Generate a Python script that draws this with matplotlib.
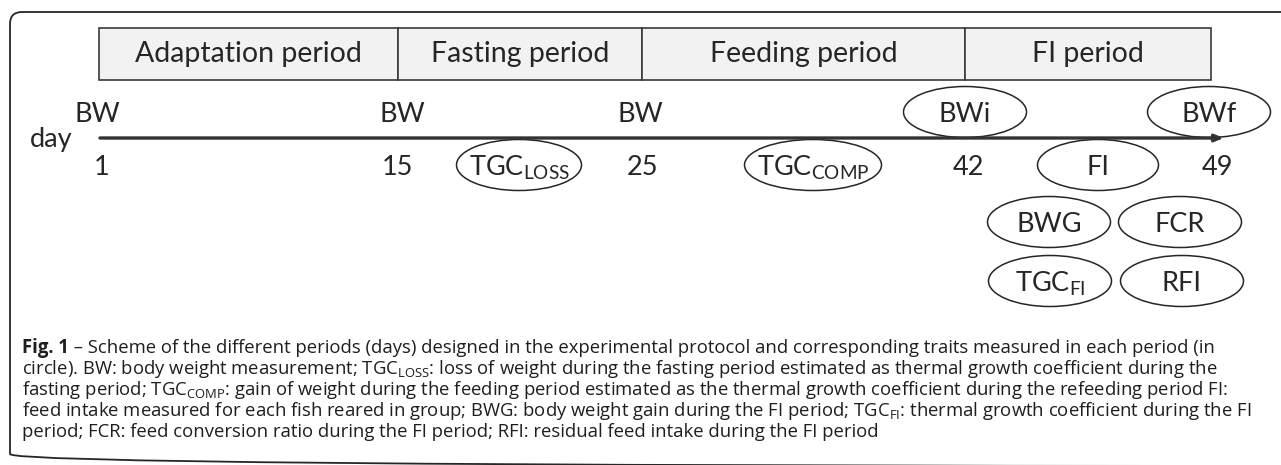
import matplotlib
matplotlib.use("Agg")
import matplotlib.pyplot as plt
from matplotlib.patches import Ellipse, Rectangle, FancyBboxPatch

## data
periods = ["Adaptation period", "Fasting period", "Feeding period", "FI period"]
days = ["1", "15", "25", "42", "49"]
weighings = ["BW", "BW", "BW", "BWi", "BWf"]
weighing_circled = [False, False, False, True, True]
# traits measured in each period (circled), one list per row below the time line
traits_row1 = [r"TGC$_\mathregular{LOSS}$", r"TGC$_\mathregular{COMP}$", "FI"]
traits_row2 = ["BWG", "FCR"]
traits_row3 = [r"TGC$_\mathregular{FI}$", "RFI"]

caption = [
    " \u2013 Scheme of the different periods (days) designed in the experimental protocol and corresponding traits measured in each period (in",
    r"circle). BW: body weight measurement; TGC$_\mathregular{LOSS}$: loss of weight during the fasting period estimated as thermal growth coefficient during the",
    r"fasting period; TGC$_\mathregular{COMP}$: gain of weight during the feeding period estimated as the thermal growth coefficient during the refeeding period FI:",
    r"feed intake measured for each fish reared in group; BWG: body weight gain during the FI period; TGC$_\mathregular{FI}$: thermal growth coefficient during the FI",
    "period; FCR: feed conversion ratio during the FI period; RFI: residual feed intake during the FI period",
]

## layout (pixels, schematic - not to scale)
W, H = 1281, 465
box_x = [99, 398, 642, 965, 1211]
box_top, box_bot = 28, 80
day_x = [102, 397, 643, 968, 1217]
bw_x = [97, 402, 640, 965, 1209]
axis_y, bw_y, day_y = 138, 112, 165
row1_x, row2_x, row3_x = [519, 813, 1098], [1049, 1180], [1050, 1182]
row1_w = [125, 137, 121]
row_y = [165, 222, 281]
ell_w, ell_h = 123, 51

ink = "#262626"
diag_font = "Lato"
cap_font = "Open Sans"


def ellipse(ax, x, y, w=ell_w, h=ell_h):
    ax.add_patch(Ellipse((x, y), w, h, fill=False, edgecolor=ink, lw=1.1))


def label(ax, x, y, s, size=19.5):
    # baseline placement so subscripts don't shift the text
    ax.text(x, y + 10, s, ha="center", va="baseline", fontsize=size,
            family=diag_font, color=ink)


def main():
    fig = plt.figure(figsize=(W / 100, H / 100), dpi=100)
    ax = fig.add_axes([0, 0, 1, 1])
    ax.set_xlim(0, W)
    ax.set_ylim(H, 0)
    ax.axis("off")

    # outer frame
    ax.add_patch(FancyBboxPatch((10, 12), 1320, 454,
                                boxstyle="round,pad=0,rounding_size=12",
                                fill=False, edgecolor=ink, lw=1.3))

    # period header boxes
    for i, name in enumerate(periods):
        x0, x1 = box_x[i], box_x[i + 1]
        ax.add_patch(Rectangle((x0, box_top), x1 - x0, box_bot - box_top,
                               facecolor="#f2f2f2", edgecolor="#3a3a3a", lw=1.2))
        ax.text((x0 + x1) / 2, box_bot - 18, name, ha="center",
                va="baseline", fontsize=20.5, family=diag_font, color=ink)

    # time line
    ax.annotate("", xy=(1224, axis_y), xytext=(100, axis_y),
                arrowprops=dict(arrowstyle="-|>,head_length=0.5,head_width=0.2",
                                color="#333333", lw=2.4, shrinkA=0, shrinkB=0))
    ax.text(51, axis_y + 9, "day", ha="center", va="baseline", fontsize=19.5,
            family=diag_font, color=ink)

    for x, d in zip(day_x, days):
        label(ax, x, day_y, d)
    for x, s, circ in zip(bw_x, weighings, weighing_circled):
        label(ax, x, bw_y, s)
        if circ:
            ellipse(ax, x, bw_y)

    for x, w, s in zip(row1_x, row1_w, traits_row1):
        ellipse(ax, x, row_y[0], w)
        label(ax, x, row_y[0], s)
    for x, s in zip(row2_x, traits_row2):
        ellipse(ax, x, row_y[1])
        label(ax, x, row_y[1], s)
    for x, s in zip(row3_x, traits_row3):
        ellipse(ax, x, row_y[2])
        label(ax, x, row_y[2], s)

    # caption
    cap_size = 13.35
    cap_color = "#1e1e1e"
    base = [353, 374, 395, 416, 437]
    t = ax.text(22, base[0], "Fig. 1", ha="left", va="baseline", fontsize=cap_size,
                family=cap_font, weight="bold", color=cap_color)
    renderer = fig.canvas.get_renderer()
    bb = t.get_window_extent(renderer)
    x_end = ax.transData.inverted().transform((bb.x1, bb.y0))[0]
    ax.text(x_end, base[0], caption[0], ha="left", va="baseline", fontsize=cap_size,
            family=cap_font, color=cap_color)
    for y, line in zip(base[1:], caption[1:]):
        ax.text(22, y, line, ha="left", va="baseline", fontsize=cap_size,
                family=cap_font, color=cap_color)

    fig.savefig("out.png", dpi=100)


if __name__ == '__main__':
    main()
